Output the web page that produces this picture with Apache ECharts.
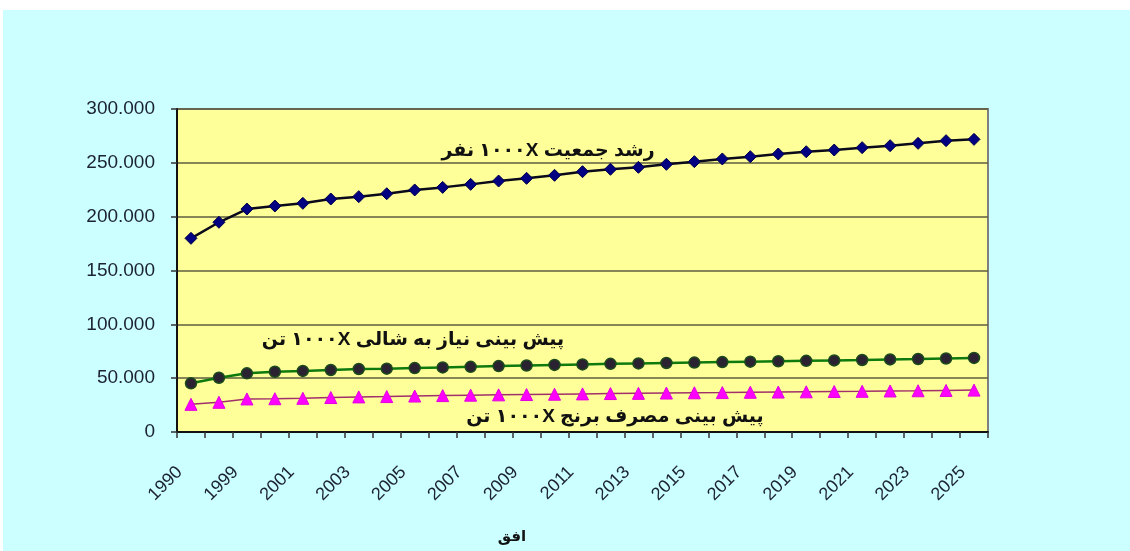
<!DOCTYPE html>
<html>
<head>
<meta charset="utf-8">
<script src="https://cdn.jsdelivr.net/npm/echarts@6/dist/echarts.min.js"></script>
<style>
  html, body { margin: 0; padding: 0; background: #ffffff; }
  #chart { position: absolute; left: 3px; top: 10px; width: 1127px; height: 541px; background: #ccffff; }
</style>
</head>
<body>
<div id="chart"></div>
<script>
// Years on the horizontal axis
const years = ['1990', '1998', '1999', '2000', '2001', '2002', '2003', '2004', '2005', '2006',
  '2007', '2008', '2009', '2010', '2011', '2012', '2013', '2014', '2015', '2016',
  '2017', '2018', '2019', '2020', '2021', '2022', '2023', '2024', '2025'];

// Population growth (x1000 people)
const population = [179900, 194800, 207100, 209900, 212400, 216400, 218600, 221300, 224800, 227200,
  230000, 233100, 235600, 238400, 241800, 244000, 245800, 248600, 251100, 253600,
  255700, 258200, 260300, 261900, 264100, 265900, 268100, 270600, 271800];

// Forecast paddy demand (x1000 tonnes)
const paddyNeed = [45200, 50400, 54500, 56000, 56700, 57600, 58500, 58800, 59400, 60000,
  60500, 61200, 61800, 62300, 62800, 63300, 63700, 64100, 64500, 64900,
  65300, 65700, 66100, 66500, 66900, 67400, 67800, 68300, 68800];

// Forecast rice consumption (x1000 tonnes)
const riceUse = [25700, 27600, 30700, 30900, 31300, 32000, 32600, 32900, 33400, 33800,
  34200, 34500, 34800, 35100, 35400, 35700, 35900, 36200, 36400, 36600,
  36900, 37100, 37300, 37600, 37800, 38100, 38300, 38600, 38900];

// Series captions (right-to-left text wrapped in an RTL embedding)
const popLabel = 'رشد جمعیت ۱۰۰۰X نفر';
const paddyLabel = 'پیش بینی نیاز به شالی ۱۰۰۰X تن';
const riceLabel = 'پیش بینی مصرف برنج ۱۰۰۰X تن';
const axisTitle = 'افق';

const rtl = s => '\u202B' + s + '\u202C';
const fmt = v => v === 0 ? '0' : String(v).replace(/\B(?=(\d{3})+(?!\d))/g, '.');

const chart = echarts.init(document.getElementById('chart'));
const txtFont = '"Liberation Sans", "DejaVu Sans", sans-serif';

chart.setOption({
  animation: false,
  backgroundColor: '#ccffff',
  grid: {
    left: 174, right: 142, top: 99, bottom: 119,
    show: true, backgroundColor: '#ffff99', borderColor: '#7f7f7f', borderWidth: 2
  },
  xAxis: {
    type: 'category',
    data: years,
    boundaryGap: true,
    axisLine: { lineStyle: { color: '#111', width: 2 } },
    axisTick: { show: true, interval: 0, length: 6, lineStyle: { color: '#333', width: 1.5 } },
    axisLabel: {
      interval: 1, rotate: 45, margin: 26, padding: [0, 16, 0, 0],
      fontFamily: txtFont, fontSize: 18, color: '#1b2230'
    }
  },
  yAxis: {
    type: 'value',
    min: 0, max: 300000, interval: 50000,
    axisLine: { show: true, lineStyle: { color: '#111', width: 2 } },
    axisTick: { show: true, length: 6, lineStyle: { color: '#333', width: 1.5 } },
    splitLine: { lineStyle: { color: '#5c5c40', width: 1.5 } },
    axisLabel: {
      formatter: fmt, margin: 22,
      fontFamily: txtFont, fontSize: 19, color: '#1b2230'
    }
  },
  series: [
    {
      name: popLabel, type: 'line', data: population,
      symbol: 'diamond', symbolSize: 12,
      itemStyle: { color: '#000080', borderColor: '#00004a', borderWidth: 1 },
      lineStyle: { color: '#0a0a1a', width: 2.5 }
    },
    {
      name: paddyLabel, type: 'line', data: paddyNeed,
      symbol: 'circle', symbolSize: 11,
      itemStyle: { color: '#2a2230', borderColor: '#1d4a1d', borderWidth: 1.5 },
      lineStyle: { color: '#0e7a0e', width: 2.5 }
    },
    {
      name: riceLabel, type: 'line', data: riceUse,
      symbol: 'triangle', symbolSize: 12,
      itemStyle: { color: '#ff00ff', borderColor: '#e000e0', borderWidth: 1 },
      lineStyle: { color: '#a0306a', width: 1.5 }
    }
  ],
  graphic: [
    {
      type: 'text', x: 545, y: 141, silent: true,
      style: { text: rtl(popLabel), font: 'bold 19px ' + txtFont, fill: '#111', align: 'center', verticalAlign: 'middle' }
    },
    {
      type: 'text', x: 410, y: 330, silent: true,
      style: { text: rtl(paddyLabel), font: 'bold 19px ' + txtFont, fill: '#111', align: 'center', verticalAlign: 'middle' }
    },
    {
      type: 'text', x: 612, y: 407, silent: true,
      style: { text: rtl(riceLabel), font: 'bold 19px ' + txtFont, fill: '#111', align: 'center', verticalAlign: 'middle' }
    },
    {
      type: 'text', x: 509, y: 527, silent: true,
      style: { text: rtl(axisTitle), font: 'bold 15px ' + txtFont, fill: '#111', align: 'center', verticalAlign: 'middle' }
    }
  ]
});
</script>
</body>
</html>
